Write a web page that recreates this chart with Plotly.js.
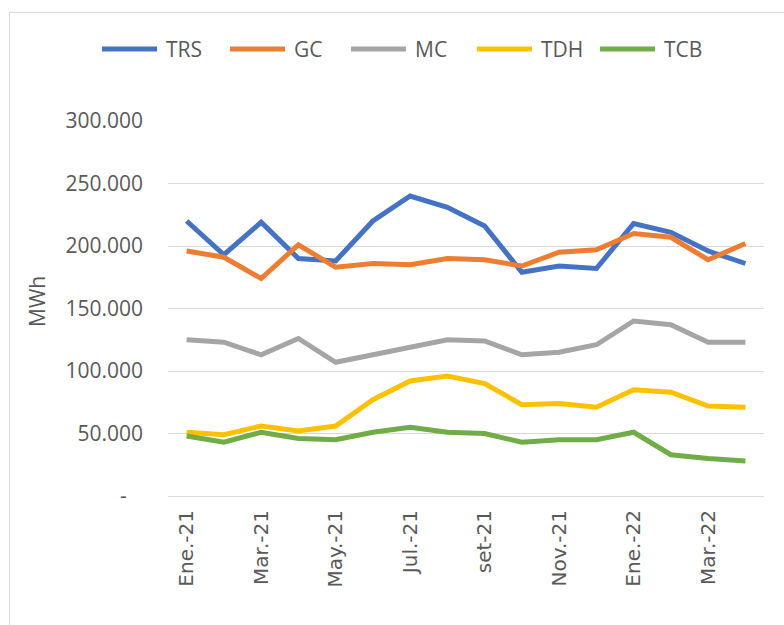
<!DOCTYPE html>
<html>
<head>
<meta charset="utf-8">
<script src="https://cdn.plot.ly/plotly-3.0.1.min.js"></script>
<style>
  body { margin: 0; background: #fff; }
  #wrap { position: relative; width: 784px; height: 625px; }
  #chart { width: 784px; height: 625px; }
  #frame { position: absolute; left: 9px; top: 12px; right: -2px; bottom: -2px;
           border-left: 1px solid #d9d9d9; border-top: 1px solid #d9d9d9; pointer-events: none; }
</style>
</head>
<body>
<div id="wrap">
  <div id="chart"></div>
  <div id="frame"></div>
</div>
<script>
// meses
const months = ['Ene.-21', 'Feb.-21', 'Mar.-21', 'Abr.-21', 'May.-21', 'Jun.-21', 'Jul.-21', 'Ago.-21',
                'set-21', 'Oct.-21', 'Nov.-21', 'Dic.-21', 'Ene.-22', 'Feb.-22', 'Mar.-22', 'Abr.-22'];

// series (MWh)
const trs = [220000, 193000, 219000, 190000, 188000, 220000, 240000, 231000, 216000, 179000, 184000, 182000, 218000, 211000, 196000, 186000];
const gc  = [196000, 191000, 174000, 201000, 183000, 186000, 185000, 190000, 189000, 184000, 195000, 197000, 210000, 207000, 189000, 202000];
const mc  = [125000, 123000, 113000, 126000, 107000, 113000, 118000, 125000, 124000, 113000, 115000, 121000, 140000, 137000, 123000, 123000];
const tdh = [51000, 49000, 56000, 52000, 56000, 77000, 92000, 96000, 90000, 73000, 74000, 71000, 85000, 83000, 72000, 71000];
const tcb = [48000, 43000, 51000, 46000, 45000, 51000, 55000, 51000, 50000, 43000, 45000, 45000, 51000, 33000, 30000, 28000];

const seriesNames = ['TRS', 'GC', 'MC', 'TDH', 'TCB'];
const seriesValues = [trs, gc, mc, tdh, tcb];
const colors = ['#4472C4', '#ED7D31', '#A5A5A5', '#FFC000', '#70AD47'];

// ticks del eje y
const yTickVals = [0, 50000, 100000, 150000, 200000, 250000, 300000];
const yTickText = ['-\u00a0\u00a0\u00a0', '50.000', '100.000', '150.000', '200.000', '250.000', '300.000'];

// etiquetas del eje x: un mes sí, otro no
const xTickText = months.filter((m, i) => i % 2 === 0);

// geometría del área de trazado (px)
const W = 784, H = 625;
const L = 168, R = 764, T = 121, B = 496;
const px2x = px => (px - L) / (R - L);
const px2y = py => (B - py) / (B - T);

const textColor = '#595959';
const gridColor = '#d9d9d9';

const traces = seriesNames.map((name, i) => ({
  x: months,
  y: seriesValues[i],
  type: 'scatter',
  mode: 'lines',
  name: name,
  line: { color: colors[i], width: 5 },
  showlegend: false
}));

// leyenda manual (líneas de 56px como en Excel)
const legendLineX = [102, 230, 351, 477, 600];
const legendY = 49;
const shapes = [];
const annotations = [];
seriesNames.forEach((name, i) => {
  shapes.push({
    type: 'line', xref: 'paper', yref: 'paper',
    x0: px2x(legendLineX[i]), x1: px2x(legendLineX[i] + 55),
    y0: px2y(legendY), y1: px2y(legendY),
    line: { color: colors[i], width: 5 }
  });
  annotations.push({
    text: name, xref: 'paper', yref: 'paper',
    x: px2x(legendLineX[i] + 62), y: px2y(legendY),
    xanchor: 'left', yanchor: 'middle', showarrow: false,
    font: { family: 'Open Sans', size: 21, color: textColor }
  });
});

// título del eje y
annotations.push({
  text: 'MWh', xref: 'paper', yref: 'paper',
  x: px2x(37), y: px2y(302), textangle: -90,
  xanchor: 'center', yanchor: 'middle', showarrow: false,
  font: { family: 'Open Sans', size: 21, color: textColor }
});

// marcas en los límites de categoría (cada 2 meses)
const boundaryTicks = [];
for (let b = -0.5; b <= months.length - 0.5; b += 2) boundaryTicks.push(b);
if (boundaryTicks[boundaryTicks.length - 1] !== months.length - 0.5) boundaryTicks.push(months.length - 0.5);

const layout = {
  width: W, height: H,
  margin: { l: L, r: W - R, t: T, b: H - B },
  paper_bgcolor: '#fff',
  plot_bgcolor: '#fff',
  xaxis: {
    type: 'category',
    range: [-0.5, months.length - 0.5],
    tickmode: 'array',
    tickvals: xTickText,
    ticktext: xTickText,
    tickangle: -90,
    ticks: '',
    ticklabelstandoff: 5,
    tickfont: { family: 'DejaVu Sans', size: 20, color: textColor },
    showgrid: false,
    showline: true,
    linecolor: gridColor,
    linewidth: 1,
    zeroline: false
  },
  xaxis2: {
    overlaying: 'x',
    anchor: 'y',
    range: [-0.5, months.length - 0.5],
    tickmode: 'array',
    tickvals: boundaryTicks,
    showticklabels: false,
    ticks: 'outside',
    ticklen: 9,
    tickcolor: gridColor,
    tickwidth: 1,
    showgrid: false,
    showline: false,
    zeroline: false
  },
  yaxis: {
    range: [0, 300000],
    tickmode: 'array',
    tickvals: yTickVals,
    ticktext: yTickText,
    ticks: '',
    ticklabelstandoff: 24,
    tickfont: { family: 'Open Sans', size: 21, color: textColor },
    showgrid: true,
    gridcolor: gridColor,
    gridwidth: 1,
    zeroline: false,
    showline: false
  },
  shapes: shapes,
  annotations: annotations,
  showlegend: false
};

Plotly.newPlot('chart', traces, layout, { displayModeBar: false, staticPlot: true });
</script>
</body>
</html>
